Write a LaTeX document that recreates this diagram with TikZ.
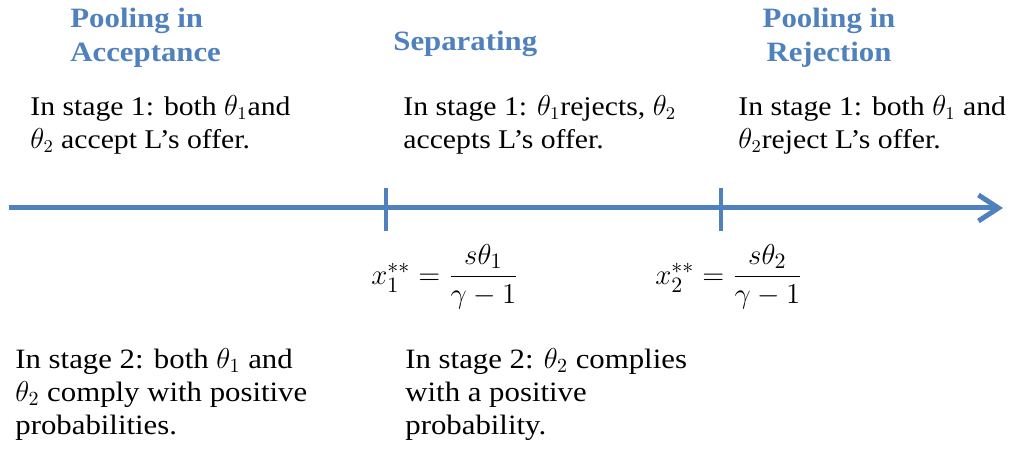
\documentclass[tikz,border=0pt]{standalone}
\usepackage{fontspec}
\setmainfont[FakeStretch=1.1]{Liberation Serif}
\newfontfamily\narrowfont[FakeStretch=1.1]{Liberation Serif}
\usepackage{amsmath}
\usetikzlibrary{arrows.meta}
\definecolor{axiscol}{RGB}{79,129,189}
\definecolor{headcol}{RGB}{79,129,189}

\begin{document}
\begin{tikzpicture}[
    x=0.5pt, y=-0.5pt,
    head/.style={font=\fontsize{14}{17}\selectfont\bfseries, text=headcol, inner sep=0pt},
    body/.style={font=\fontsize{13.5}{16.5}\selectfont, align=left, inner sep=0pt, anchor=north west},
    lowbody/.style={font=\narrowfont\fontsize{14}{16.5}\selectfont, align=left, inner sep=0pt, anchor=north west},
    formula/.style={font=\fontsize{15}{18}\selectfont, inner sep=0pt},
    axis/.style={-{Straight Barb[length=10pt, width=13pt]}, line width=2.5pt, axiscol},
    tick/.style={line width=2pt, axiscol},
]
\useasboundingbox (0,0) rectangle (1017,453);

% regions
\node[head, align=left, anchor=north west] (hacc) at (70,8) {Pooling in\\Acceptance};
\node[head, anchor=north west] (hsep) at (393,31) {Separating};
\node[head, align=center, anchor=north] (hrej) at (829,8) {Pooling in\\Rejection};

% stage 1
\node[body] (acc1) at (30,95) {In stage 1: both $\theta_1$and\\$\theta_2$ accept L's offer.};
\node[body] (sep1) at (403,95) {In stage 1: $\theta_1$rejects, $\theta_2$\\accepts L's offer.};
\node[body] (rej1) at (738,95) {In stage 1: both $\theta_1$ and\\$\theta_2$reject L's offer.};

% axis and thresholds
\coordinate (axl) at (9,208);
\coordinate (axr) at (1003,208);
\coordinate (t1a) at (386,188);
\coordinate (t1b) at (386,231);
\coordinate (t2a) at (721,188);
\coordinate (t2b) at (721,231);
\draw[axis] (axl) -- (axr);
\draw[tick] (t1a) -- (t1b);
\draw[tick] (t2a) -- (t2b);

\node[formula] (x1) at (445,277) {$x_1^{**}=\dfrac{s\theta_1}{\gamma-1}$};
\node[formula] (x2) at (729,277) {$x_2^{**}=\dfrac{s\theta_2}{\gamma-1}$};

% stage 2
\node[lowbody] (acc2) at (15,348) {In stage 2: both $\theta_1$ and\\$\theta_2$ comply with positive\\probabilities.};
\node[lowbody] (sep2) at (405,348) {In stage 2: $\theta_2$ complies\\with a positive\\probability.};
\end{tikzpicture}
\end{document}
